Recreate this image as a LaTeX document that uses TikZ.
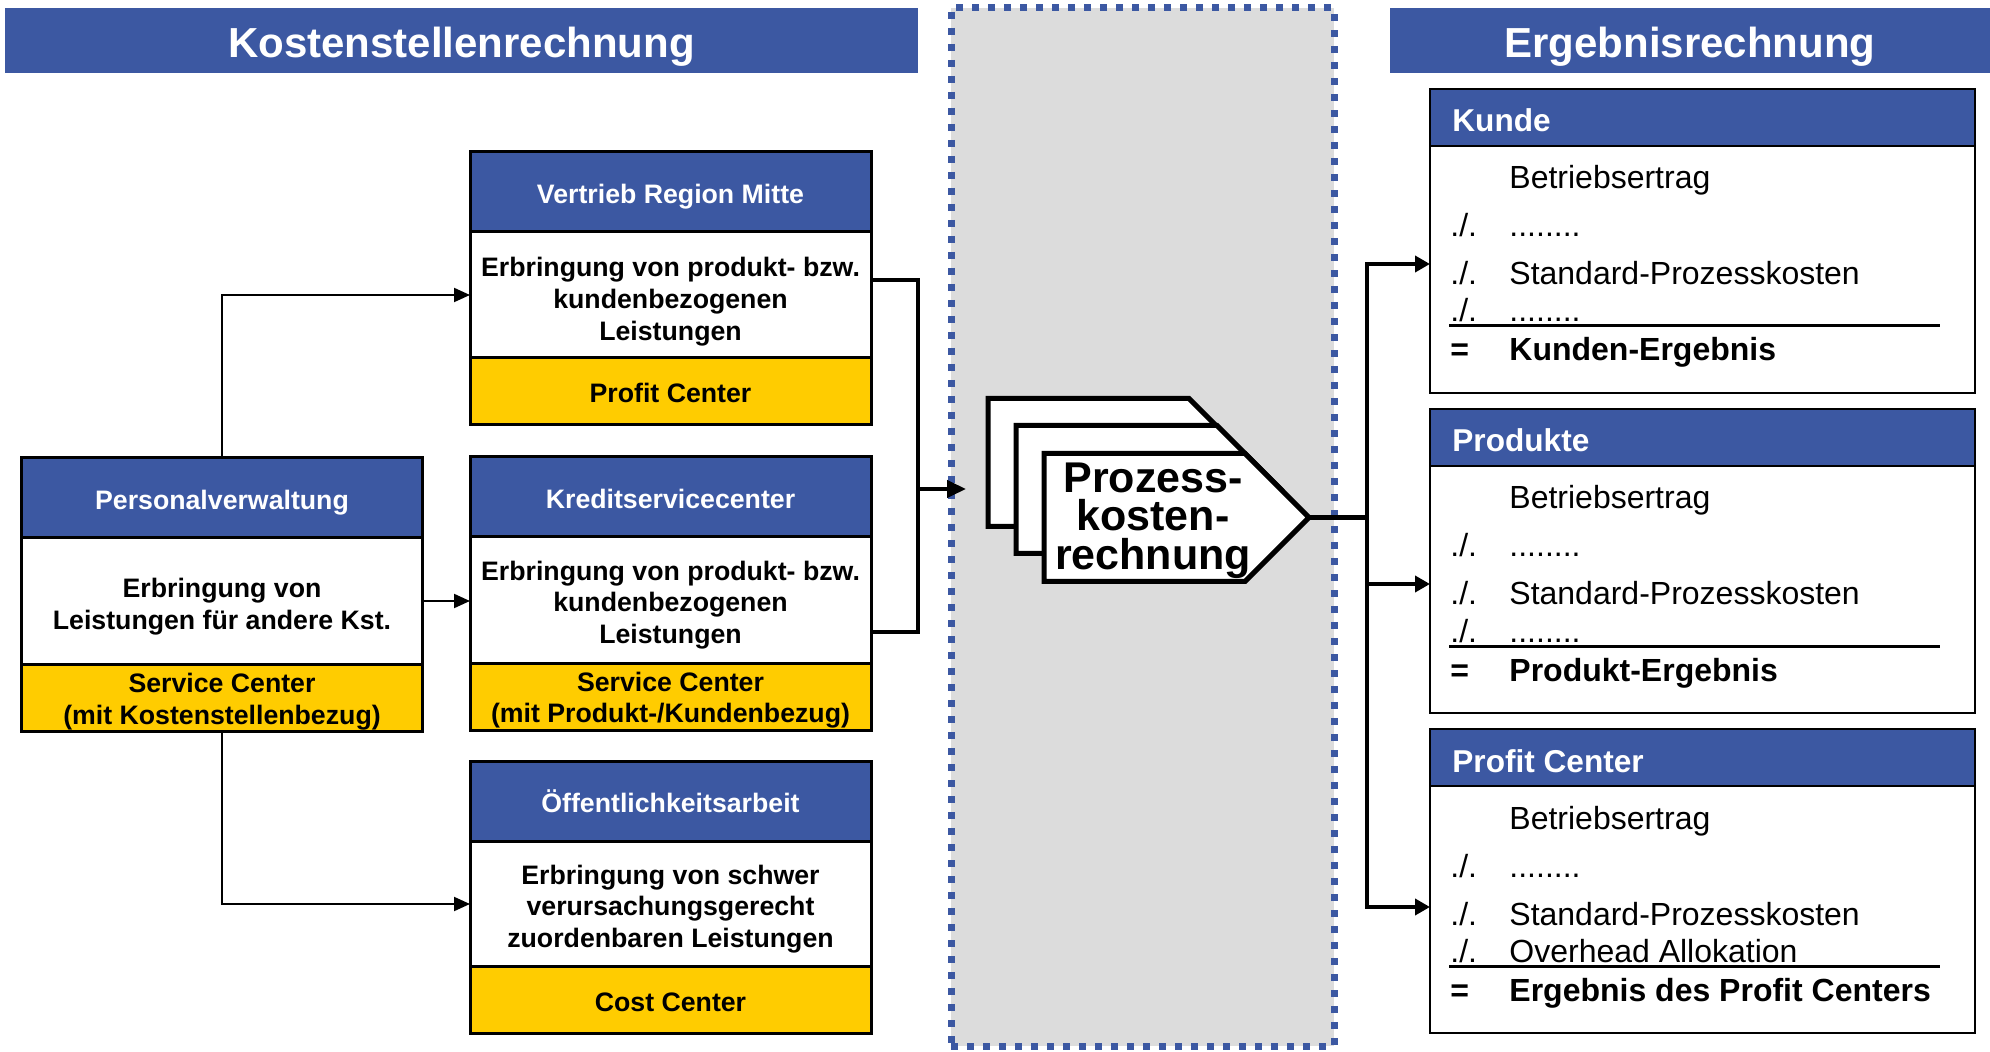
\documentclass[tikz,border=0pt]{standalone}
\usepackage{fontspec}
\setmainfont{Liberation Sans}
\usetikzlibrary{arrows.meta}

\definecolor{hdrblue}{RGB}{60,88,162}
\definecolor{ccyellow}{RGB}{255,204,0}
\definecolor{zonegray}{RGB}{220,220,220}

\tikzset{
  % title banners
  banner/.style={fill=hdrblue, text=white, inner sep=0pt, outer sep=0pt,
    minimum height=32.5pt, font=\bfseries\fontsize{21}{25}\selectfont,
    text height=17.5pt, text depth=0pt},
  % cost centre boxes (left)
  boxsec/.style={draw=black, line width=1.5pt, inner sep=0pt, outer sep=0pt,
    minimum width=200.5pt},
  kshead/.style={boxsec, fill=hdrblue, minimum height=40pt, text=white,
    font=\bfseries\fontsize{13.35}{15.85}\selectfont,
    text height=11.8pt, text depth=0pt},
  ksbody/.style={boxsec, fill=white, minimum height=63pt},
  ksfoot/.style={boxsec, fill=ccyellow, minimum height=33.5pt,
    font=\bfseries\fontsize{13.35}{15.85}\selectfont,
    text height=11.5pt, text depth=0pt},
  kstext/.style={font=\bfseries\fontsize{13.35}{15.85}\selectfont,
    align=center, inner sep=0pt},
  % result boxes (right)
  ersec/.style={draw=black, line width=1.25pt, inner sep=0pt, outer sep=0pt,
    minimum width=272.5pt},
  erhead/.style={ersec, fill=hdrblue, minimum height=28.5pt},
  erbody/.style={ersec, fill=white, minimum height=123.5pt},
  erhtext/.style={anchor=base west, inner sep=0pt, text=white,
    font=\bfseries\fontsize{15.8}{19}\selectfont},
  errow/.style={anchor=base west, inner sep=0pt, font=\fontsize{16}{19}\selectfont},
  erres/.style={anchor=base west, inner sep=0pt, font=\bfseries\fontsize{16}{19}\selectfont},
  errule/.style={line width=1.5pt},
  % activity based costing block
  zone/.style={fill=zonegray, draw=hdrblue, line width=3.5pt,
    dash pattern=on 3.5pt off 4.5pt, inner sep=0pt, outer sep=0pt,
    minimum width=191.5pt, minimum height=519pt},
  plate/.style={fill=white, draw=black, line width=2.5pt, line join=miter},
  pkrtext/.style={font=\bfseries\fontsize{21.5}{19.2}\selectfont,
    align=center, inner sep=0pt},
  % connectors
  thinarrow/.style={line width=1pt, -{Triangle[length=8pt,width=7pt]}},
  thkline/.style={line width=2pt, line join=miter},
  thkarrow/.style={thkline, -{Triangle[length=9.5pt,width=8.5pt]}},
  spline/.style={line width=2.25pt, line join=miter},
  sparrow/.style={spline, -{Triangle[length=7.5pt,width=8pt]}},
}

\newcommand{\pkrplate}{%
  \filldraw[plate] (1044,453.5) -- (1245,453.5) -- (1309,517.5)
    -- (1245,581.5) -- (1044,581.5) -- cycle;}

\begin{document}
\begin{tikzpicture}[x=0.5pt,y=-0.5pt]
\useasboundingbox (0,0) rectangle (1990,1052);

% ---------- titles ----------
\node[banner, minimum width=456.5pt] (ks-title) at (461.5,40.5) {Kostenstellenrechnung};
\node[banner, minimum width=300pt] (er-title) at (1690,40.5) {Ergebnisrechnung};

% ---------- activity based costing zone ----------
\node[zone] (pkr-zone) at (1142.5,527) {};

% ---------- Personalverwaltung ----------
\node[kshead] (pv-h) at (222,498) {Personalverwaltung};
\node[ksbody] (pv-b) at (222,601) {};
\node[ksfoot] (pv-f) at (222,697.5) {};
\node[kstext] (pv-bt) at (222,606.5) {Erbringung von\\Leistungen für andere Kst.};
\node[kstext] (pv-ft) at (222,701.4) {Service Center\\(mit Kostenstellenbezug)};

% ---------- Vertrieb Region Mitte ----------
\node[kshead] (vr-h) at (670.5,192) {Vertrieb Region Mitte};
\node[ksbody] (vr-b) at (670.5,295) {};
\node[ksfoot] (vr-f) at (670.5,391.5) {Profit Center};
\node[kstext] (vr-bt) at (670.5,301.5) {Erbringung von produkt- bzw.\\kundenbezogenen\\Leistungen};

% ---------- Kreditservicecenter ----------
\node[kshead] (kr-h) at (670.5,497) {Kreditservicecenter};
\node[ksbody] (kr-b) at (670.5,600) {};
\node[ksfoot] (kr-f) at (670.5,696.5) {};
\node[kstext] (kr-bt) at (670.5,605) {Erbringung von produkt- bzw.\\kundenbezogenen\\Leistungen};
\node[kstext] (kr-ft) at (670.5,700.3) {Service Center\\(mit Produkt-/Kundenbezug)};

% ---------- Öffentlichkeitsarbeit ----------
\node[kshead] (oe-h) at (670.5,801) {Öffentlichkeitsarbeit};
\node[ksbody] (oe-b) at (670.5,904) {};
\node[ksfoot] (oe-f) at (670.5,1000) {Cost Center};
\node[kstext] (oe-bt) at (670.5,909) {Erbringung von schwer\\verursachungsgerecht\\zuordenbaren Leistungen};

% ---------- internal service flows ----------
\draw[thinarrow] (pv-h.north) |- (vr-b.west);
\draw[thinarrow] (pv-b.east) -- (pv-b.east -| kr-b.west);
\draw[thinarrow] (pv-f.south) |- (oe-b.west);

% ---------- Prozesskostenrechnung ----------
\begin{scope}[shift={(-56,-55)}]\pkrplate\end{scope}
\begin{scope}[shift={(-28,-28)}]\pkrplate\end{scope}
\pkrplate
\node[pkrtext] (pkr-label) at (1153,520.5) {Prozess-\\kosten-\\rechnung};
\coordinate (pkr-tip) at (1309,517.5);
\coordinate (pkr-in) at (966,489);
\coordinate (brk-mid) at (918,489);

% bracket from the cost centres into the process costing
\draw[thkline] ([yshift=7.5pt]vr-b.east) -| (brk-mid) |- ([yshift=-16pt]kr-b.east);
\draw[thkarrow] (brk-mid) -- (pkr-in);

% ---------- result boxes ----------
\foreach \k/\hd/\four/\res in {0/Kunde/{........}/Kunden-Ergebnis,
    1/Produkte/{........}/Produkt-Ergebnis,
    2/Profit Center/Overhead Allokation/Ergebnis des Profit Centers}{
  \pgfmathsetmacro{\dy}{320*\k}
  \node[erhead] (er\k-h) at (1702.5,117.5+\dy) {};
  \node[erbody] (er\k-b) at (1702.5,269.5+\dy) {};
  \node[erhtext] (er\k-ht) at (1452,132+\dy) {\hd};
  \node[errow] (er\k-r1) at (1509,189+\dy) {Betriebsertrag};
  \node[errow] (er\k-s2) at (1450,237+\dy) {./.};
  \node[errow] (er\k-r2) at (1509,237+\dy) {........};
  \node[errow] (er\k-s3) at (1450,285+\dy) {./.};
  \node[errow] (er\k-r3) at (1509,285+\dy) {Standard-Prozesskosten};
  \node[errow] (er\k-s4) at (1450,322+\dy) {./.};
  \node[errow] (er\k-r4) at (1509,322+\dy) {\four};
  \draw[errule] (1449,326+\dy) -- (1940,326+\dy);
  \node[erres] (er\k-s5) at (1450,361+\dy) {=};
  \node[erres] (er\k-r5) at (1509,361+\dy) {\res};
}

% ---------- distribution to the result objects ----------
\coordinate (sp0) at (1367,264);
\coordinate (sp1) at (1367,584);
\coordinate (sp2) at (1367,907);
\draw[sparrow] (pkr-tip) -| (sp0) -- (sp0 -| er0-b.west);
\draw[sparrow] (pkr-tip -| sp0) |- (sp2 -| er2-b.west);
\draw[sparrow] (sp1) -- (sp1 -| er1-b.west);

\end{tikzpicture}
\end{document}
